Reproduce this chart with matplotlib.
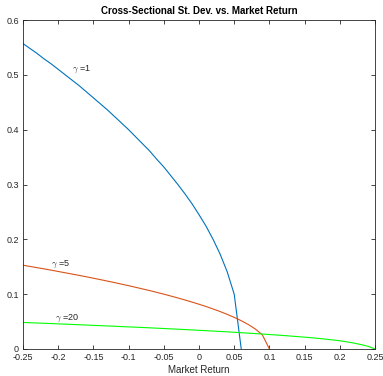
import matplotlib
matplotlib.use("Agg")
import matplotlib.pyplot as plt

# market return grid (shared by all three curves)
market_return = [-0.25, -0.24, -0.23, -0.22, -0.21, -0.20, -0.19, -0.18, -0.17, -0.16,
                 -0.15, -0.14, -0.13, -0.12, -0.11, -0.10, -0.09, -0.08, -0.07, -0.06,
                 -0.05, -0.04, -0.03, -0.02, -0.01, 0.00, 0.01, 0.02, 0.03, 0.04,
                 0.05, 0.06, 0.07, 0.08, 0.09, 0.10, 0.11, 0.12, 0.13, 0.14,
                 0.15, 0.16, 0.17, 0.18, 0.19, 0.20, 0.21, 0.22, 0.23, 0.24, 0.25]

# cross-sectional st. dev.
sd_gamma1 = [0.557, 0.548, 0.539, 0.529, 0.520, 0.510, 0.500, 0.490, 0.480, 0.469,
             0.458, 0.447, 0.436, 0.424, 0.412, 0.400, 0.387, 0.374, 0.361, 0.346,
             0.332, 0.316, 0.300, 0.283, 0.265, 0.245, 0.224, 0.200, 0.173, 0.141,
             0.100, 0.0]
sd_gamma5 = [0.1528, 0.1506, 0.1483, 0.1461, 0.1438, 0.1414, 0.1390, 0.1366, 0.1342, 0.1317,
             0.1291, 0.1265, 0.1238, 0.1211, 0.1183, 0.1155, 0.1125, 0.1095, 0.1065, 0.1033,
             0.1000, 0.0966, 0.0931, 0.0894, 0.0856, 0.0816, 0.0775, 0.0730, 0.0683, 0.0632,
             0.0577, 0.0516, 0.0447, 0.0365, 0.0258, 0.0]
sd_gamma20 = [0.0485, 0.0479, 0.0474, 0.0469, 0.0464, 0.0458, 0.0453, 0.0448, 0.0442, 0.0437,
              0.0431, 0.0426, 0.0420, 0.0415, 0.0409, 0.0403, 0.0398, 0.0392, 0.0386, 0.0380,
              0.0374, 0.0367, 0.0361, 0.0354, 0.0348, 0.0341, 0.0334, 0.0327, 0.0320, 0.0313,
              0.0305, 0.0297, 0.0289, 0.0281, 0.0273, 0.0264, 0.0255, 0.0246, 0.0236, 0.0226,
              0.0216, 0.0205, 0.0193, 0.0180, 0.0165, 0.0150, 0.0130, 0.0108, 0.0080, 0.0050,
              0.0]

labels = ["$\\gamma$ =1", "$\\gamma$ =5", "$\\gamma$ =20"]
label_pos = [(-0.18, 0.51), (-0.21, 0.155), (-0.205, 0.057)]

plt.rcParams["font.family"] = ["Liberation Sans", "DejaVu Sans"]
plt.rcParams["mathtext.fontset"] = "cm"

fig = plt.figure(figsize=(3.83, 3.76), dpi=100)
ax = fig.add_axes([23 / 383, 27 / 376, 352 / 383, 329 / 376])

ax.plot(market_return[:len(sd_gamma1)], sd_gamma1, color="#0072BD", lw=0.8)
ax.plot(market_return[:len(sd_gamma5)], sd_gamma5, color="#D95319", lw=0.8)
ax.plot(market_return[:len(sd_gamma20)], sd_gamma20, color="#00FF00", lw=0.8)

for lab, (x, y) in zip(labels, label_pos):
    ax.text(x, y, lab, fontsize=6.5, va="center", ha="left", color="#262626")

ax.set_xlim(-0.25, 0.25)
ax.set_ylim(0, 0.6)
ax.set_xticks([-0.25, -0.2, -0.15, -0.1, -0.05, 0, 0.05, 0.1, 0.15, 0.2, 0.25])
ax.set_xticklabels(["-0.25", "-0.2", "-0.15", "-0.1", "-0.05", "0", "0.05", "0.1",
                    "0.15", "0.2", "0.25"])
ax.set_yticks([0, 0.1, 0.2, 0.3, 0.4, 0.5, 0.6])
ax.set_yticklabels(["0", "0.1", "0.2", "0.3", "0.4", "0.5", "0.6"])

ax.tick_params(direction="in", top=True, right=True, length=3, width=0.6,
               labelsize=6.5, colors="#262626", pad=3)
for sp in ax.spines.values():
    sp.set_color("#262626")
    sp.set_linewidth(0.6)

ax.set_xlabel("Market Return", fontsize=7, color="#262626", labelpad=2)
ax.set_title("Cross-Sectional St. Dev. vs. Market Return", fontsize=7,
             fontweight="bold", color="black", pad=4)

fig.savefig("out.png", dpi=100)
